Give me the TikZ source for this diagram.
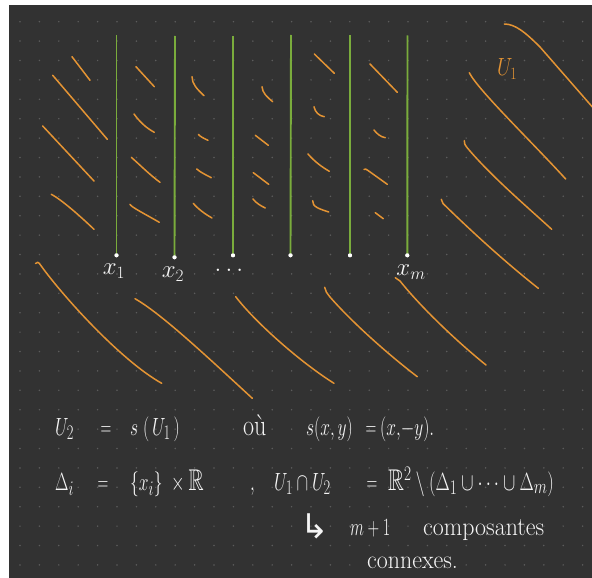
\documentclass[tikz,border=0pt]{standalone}
\usepackage{amssymb}
\usepackage{fontspec}
\newfontfamily\djv{DejaVu Sans}
\newcommand{\hwsq}[2][0.7]{\scalebox{#1}[1]{#2}}
\definecolor{bg}{RGB}{50,50,50}
\definecolor{gdot}{RGB}{92,92,92}
\definecolor{grn}{RGB}{122,172,60}
\definecolor{orng}{RGB}{228,148,52}
\definecolor{txtc}{RGB}{245,245,245}
\tikzset{
  hatch/.style={draw=orng, line width=1.5pt, line cap=round, line join=round},
  gline/.style={draw=grn, line width=1.9pt},
  tipdot/.style={circle, fill=white, inner sep=0pt, minimum size=4pt},
  lbl/.style={text=txtc, font=\fontsize{24}{26}\selectfont, inner sep=0pt},
  hw/.style={text=txtc, font=\fontsize{30}{34}\selectfont, anchor=base west, inner sep=0pt},
  hwc/.style={text=txtc, font=\fontsize{30}{34}\selectfont, anchor=base, inner sep=0pt},
  hwt/.style={text=txtc, font=\fontsize{26}{30}\selectfont, anchor=base west, inner sep=0pt},
}
\begin{document}
\begin{tikzpicture}[x=1pt,y=-1pt]
\useasboundingbox (0,0) rectangle (592,578);
\fill[white] (0,0) rectangle (592,578);
\fill[bg] (9,5) rectangle (592,578);
% dot grid
\foreach \i in {0,...,29}{
  \foreach \j in {0,...,28}{
    \fill[gdot] ({20+19.4*\i},{21.7+19.4*\j}) circle (0.85pt);
  }
}
\begin{scope}
\clip (9,5) rectangle (592,578);
% column 1 hatches
\draw[hatch] (72,56.7) -- (90,80.3);
\draw[hatch] (52.7,75.3) -- (107.3,139.3);
\draw[hatch] (42.7,126) -- (94,181);
\draw[hatch] (51.3,194.3) .. controls (62,200) and (80,216) .. (94,229.3);
% column 2
\draw[hatch] (136,66.7) -- (154.3,86.7);
\draw[hatch] (134,114) .. controls (139,121) and (146,128) .. (154.3,132.3);
\draw[hatch] (131.3,157.3) .. controls (140,165) and (150,175) .. (160,182.3);
\draw[hatch] (130,204.3) .. controls (131,207) and (145,214) .. (159.3,222.3);
% column 3
\draw[hatch] (192,76.7) .. controls (192,84) and (197,89) .. (204,95.7);
\draw[hatch] (198.3,134.3) .. controls (200,136.5) and (204,138.5) .. (208,140.3);
\draw[hatch] (196.7,169) .. controls (200,172) and (206,175) .. (211.3,177.7);
\draw[hatch] (193.3,203.3) .. controls (198,209) and (205,214) .. (212,218);
% column 4
\draw[hatch] (262,86.7) .. controls (262.5,93) and (267,97) .. (272.7,101.7);
\draw[hatch] (255.3,135.3) -- (268.3,145.3);
\draw[hatch] (253.3,172.7) -- (268.7,184.3);
\draw[hatch] (253,199) .. controls (256,203) and (261,206) .. (265.3,208);
% column 5
\draw[hatch] (314.3,54) -- (334.3,73.3);
\draw[hatch] (314,106.7) .. controls (315,112) and (319,116) .. (324.3,116.7);
\draw[hatch] (308,154) .. controls (315,162) and (322,167) .. (329.3,171.3);
\draw[hatch] (312.7,200.7) .. controls (312,207) and (320,209) .. (328.7,212);
% column 6
\draw[hatch] (370,64) -- (397.3,92.3);
\draw[hatch] (374,130) .. controls (377,134) and (381,137) .. (385.3,137.7);
\draw[hatch] (364,169.5) .. controls (365,168.5) and (366,169) .. (368,170.5) -- (387.3,184.3);
\draw[hatch] (375.3,212.7) -- (383.3,218.7);
% long strokes
\draw[hatch] (35.5,263.5) .. controls (37,261.5) and (38.5,262.5) .. (39.3,263.3)
  .. controls (60,293) and (120,360) .. (161.7,383.3);
\draw[hatch] (135,298.7) .. controls (160,313) and (200,350) .. (252.3,398.3);
\draw[hatch] (235.7,296.7) .. controls (255,322) and (300,362) .. (334,383.3);
\draw[hatch] (324.7,287.3) .. controls (325,291) and (327,293) .. (330,297)
  .. controls (350,320) and (385,352) .. (417.3,376.7);
\draw[hatch] (395.3,277.7) .. controls (398,279) .. (400,281)
  .. controls (420,306) and (455,340) .. (486,365);
\draw[hatch] (441.3,199.3) .. controls (441.5,202) .. (443,203.5)
  .. controls (470,230) and (505,262) .. (538.3,288.3);
\draw[hatch] (464.3,140.7) .. controls (464.5,144) .. (467,147.5)
  .. controls (490,175) and (525,205) .. (551.7,229.3);
\draw[hatch] (469.3,72.7) .. controls (478,90) and (530,140) .. (565.7,179);
\draw[hatch] (504.3,24) .. controls (515,24) and (525,32) .. (540,47) -- (595,110);
\end{scope}
% U_1 label
\node[text=orng, font=\fontsize{27}{29}\selectfont, inner sep=0pt] (u1) at (507,69) {\hwsq[0.8]{$U_1$}};
% green lines with end dots
\coordinate (t1) at (116.5,35);
\coordinate (t2) at (175,36);
\coordinate (t3) at (233,36);
\coordinate (t4) at (291,35);
\coordinate (t5) at (350,35);
\coordinate (t6) at (407.5,35.5);
\node[tipdot] (b1) at (116.5,255.3) {};
\node[tipdot] (b2) at (174.5,257.3) {};
\node[tipdot] (b3) at (233,255.3) {};
\node[tipdot] (b4) at (290.5,255.3) {};
\node[tipdot] (b5) at (350,255.3) {};
\node[tipdot] (b6) at (407.3,255.3) {};
\foreach \k in {1,...,6}{ \draw[gline] (t\k) -- (b\k.center); }
\foreach \k in {1,...,6}{ \node[tipdot] at (b\k) {}; }
% labels
\node[lbl] (lx1) at (114,271) {$x_1$};
\node[lbl] (lx2) at (173,274) {$x_2$};
\node[lbl] (ldots) at (229,270) {$\dots$};
\node[lbl] (lxm) at (411,272) {$x_m$};
% line 1
\node[hw] (a1) at (55,435) {\hwsq{$U_2$}};
\node[hwc] (a2) at (106,435) {\hwsq[0.6]{$=$}};
\node[hw] (a3) at (130,435) {\hwsq{$s\;(\,U_1\,)$}};
\node[hw] (a4) at (243,435) {\hwsq[0.8]{où}};
\node[hw] (a5) at (306,435) {\hwsq{$s(x,y)$}};
\node[hwc] (a6) at (371,435) {\hwsq[0.6]{$=$}};
\node[hw] (a7) at (380,435) {\hwsq{$(x,\!-y).$}};
% line 2
\node[hw] (c1) at (55,490) {\hwsq{$\Delta_i$}};
\node[hwc] (c2) at (103,490) {\hwsq[0.6]{$=$}};
\node[hw] (c3) at (130,490) {\hwsq{$\{x_i\}\;\times\mathbb{R}$}};
\node[hw] (c4) at (250,490) {\hwsq{$,$}};
\node[hw] (c5) at (274,490) {\hwsq{$U_1\cap U_2$}};
\node[hwc] (c6) at (372,490) {\hwsq[0.6]{$=$}};
\node[hw] (c7) at (388,490) {\hwsq[0.74]{$\mathbb{R}^2\setminus(\Delta_1\cup\cdots\cup\Delta_m)$}};
% line 3
\node[hw, font=\djv\fontsize{34}{36}\selectfont] (d1) at (300,538) {↳};
\node[hw] (d2) at (350,535) {\hwsq[0.65]{$m+1$}};
\node[hwt] (d3) at (423,535) {\hwsq[0.92]{composantes}};
% line 4
\node[hwt] (e1) at (367,568) {\hwsq[0.92]{connexes.}};
\end{tikzpicture}
\end{document}
